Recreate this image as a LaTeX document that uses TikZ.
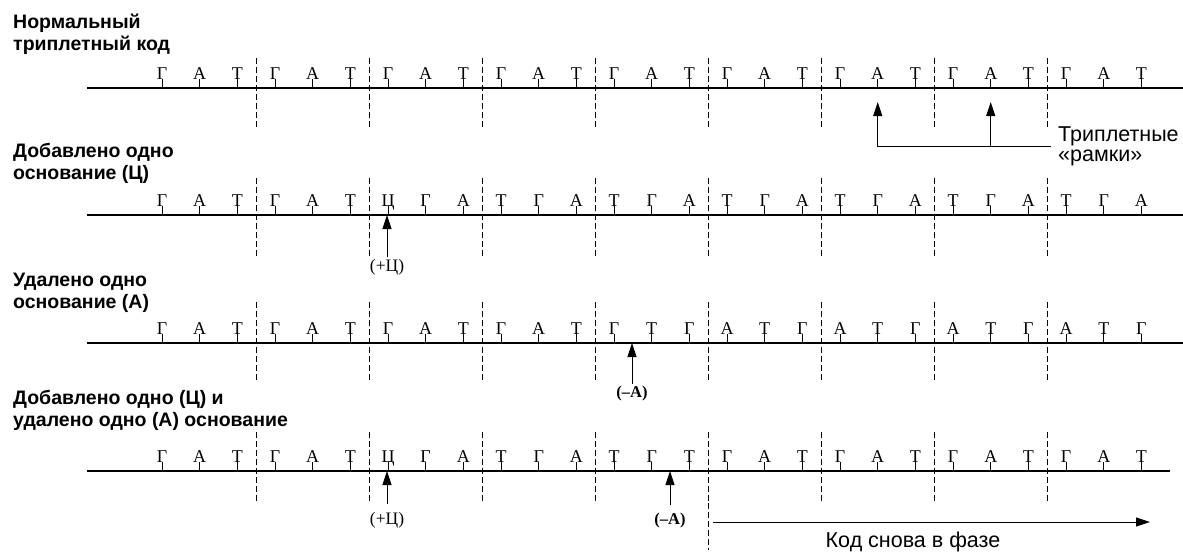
\documentclass[tikz,border=0pt]{standalone}
\usepackage{fontspec}
\setmainfont{Liberation Serif}
\setsansfont{Liberation Sans}
\usetikzlibrary{arrows.meta,positioning,calc}

\begin{document}
\begin{tikzpicture}[
  x=1pt, y=-1pt,
  base/.style={line width=1.4pt},
  nuc/.style={font=\fontsize{18}{18}\selectfont, inner sep=0pt, anchor=base},
  tick/.style={line width=0.7pt},
  frame/.style={dash pattern=on 6pt off 3pt, line width=0.8pt},
  rowlbl/.style={font=\sffamily\bfseries\fontsize{19.5}{22}\selectfont, align=left, anchor=base west, inner sep=0pt},
  mut/.style={font=\fontsize{17.5}{17}\selectfont, inner sep=1pt},
  del/.style={mut, font=\bfseries\fontsize{16.5}{16}\selectfont},
  arr/.style={-{Triangle[length=14pt,width=9pt]}, line width=0.8pt},
  note/.style={font=\sffamily\fontsize{21.5}{20}\selectfont, align=left, inner sep=0pt},
]
\useasboundingbox (0,0) rectangle (1183,552);

% row labels
\node[rowlbl] (lbl1) at (13,50) {Нормальный\\триплетный код};
\node[rowlbl] (lbl2) at (13,179) {Добавлено одно\\основание (Ц)};
\node[rowlbl] (lbl3) at (13,308) {Удалено одно\\основание (А)};
\node[rowlbl] (lbl4) at (13,426) {Добавлено одно (Ц) и\\удалено одно (А) основание};

% the four sequences
\foreach \r/\yy/\up/\dn/\xe/\seq in {
  1/88/30/40/1183/{Г,А,Т,Г,А,Т,Г,А,Т,Г,А,Т,Г,А,Т,Г,А,Т,Г,А,Т,Г,А,Т,Г,А,Т},
  2/215/37/43/1183/{Г,А,Т,Г,А,Т,Ц,Г,А,Т,Г,А,Т,Г,А,Т,Г,А,Т,Г,А,Т,Г,А,Т,Г,А},
  3/343/41/37/1183/{Г,А,Т,Г,А,Т,Г,А,Т,Г,А,Т,Г,Т,Г,А,Т,Г,А,Т,Г,А,Т,Г,А,Т,Г},
  4/471/39/32/1170/{Г,А,Т,Г,А,Т,Ц,Г,А,Т,Г,А,Т,Г,Т,Г,А,Т,Г,А,Т,Г,А,Т,Г,А,Т}} {
  \draw[base] (87,\yy) -- (\xe,\yy);
  \foreach \k in {1,...,8}
    \draw[frame] (143+113*\k,\yy-\up) -- (143+113*\k,\yy+\dn);
  \foreach \ch [count=\i from 0] in \seq {
    \node[nuc] (r\r-\i) at (162+37.67*\i,\yy-9) {\ch};
    \draw[tick] (r\r-\i.base) -- ++(0,9);
  }
}
% frame line under row 4 goes on down
\draw[frame] (708,503) -- (708,550);

% triplet frames
\node[note, anchor=west, inner xsep=7pt] (frames) at (1051,146) {Триплетные\\«рамки»};
\coordinate (fa1) at ($(r1-19.base)+(0,23)$);
\coordinate (fa2) at ($(r1-22.base)+(0,23)$);
\draw[arr] (frames.west) -| (fa1);
\draw[arr] (fa2 |- frames.west) -- (fa2);

% mutations
\node[mut] (ins2) at (387,267) {(+Ц)};
\draw[arr] ($(ins2.north)+(0,-1)$) -- ($(ins2.north |- r2-6.base)+(0,9)$);
\node[del] (del3) at (632,394) {(--А)};
\draw[arr] ($(del3.north)+(0,-1)$) -- ($(del3.north |- r3-12.base)+(0,9)$);
\node[mut] (ins4) at (387,520) {(+Ц)};
\draw[arr] ($(ins4.north)+(0,-7)$) -- ($(ins4.north |- r4-6.base)+(0,9)$);
\node[del] (del4) at (670,521) {(--А)};
\draw[arr] ($(del4.north)+(0,-7)$) -- ($(del4.north |- r4-13.base)+(0,9)$);

% back in frame
\coordinate (ph0) at (713,522);
\coordinate (ph1) at (1150,522);
\draw[arr] (ph0) -- (ph1);
\node[note, anchor=base] (phase) at (913,547) {Код снова в фазе};
\end{tikzpicture}
\end{document}
